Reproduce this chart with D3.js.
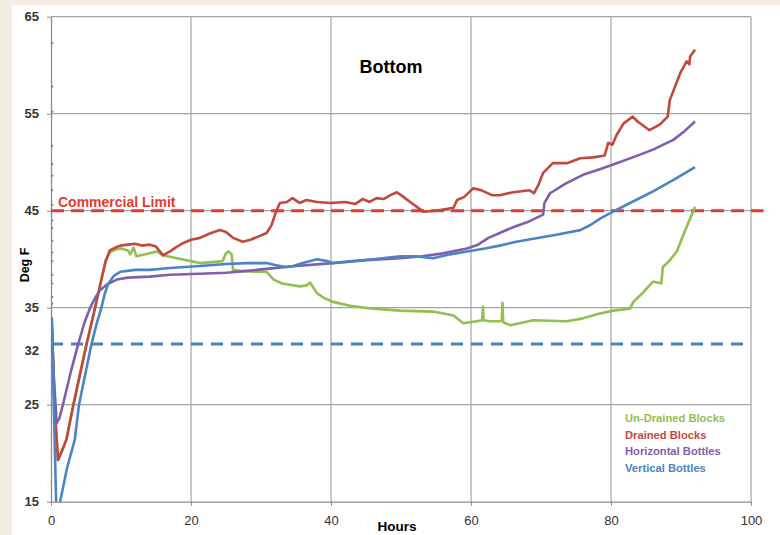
<!DOCTYPE html>
<html>
<head>
<meta charset="utf-8">
<script src="https://cdn.jsdelivr.net/npm/d3@7"></script>
<style>
  body { margin: 0; background: #f3eee1; }
  svg { display: block; font-family: 'Liberation Sans', Arial, sans-serif; }
</style>
</head>
<body>
<svg id="chart"></svg>
<script>
// values: [hours, deg F]
const drained = [
  [0.1, 34], [0.5, 25], [1.0, 19.3], [1.6, 20.3], [2.2, 21.4], [3.2, 25], [4.1, 28], [5.1, 31.3],
  [6.3, 35], [7.2, 37.9], [7.8, 39.8], [8.4, 40.9], [9.2, 41.2], [9.9, 41.4], [11, 41.5], [12, 41.6],
  [13, 41.4], [14.1, 41.5], [15, 41.3], [16, 40.4], [17, 40.8], [18, 41.3], [19, 41.7], [20, 42.0],
  [21.3, 42.2], [22.5, 42.6], [24.1, 43.0], [25, 42.8], [26, 42.2], [27.4, 41.8], [28.5, 42.0],
  [29.5, 42.3], [30.8, 42.7], [31.5, 43.5], [32.2, 45.0], [32.7, 45.8], [33.7, 45.9], [34.5, 46.3],
  [35.5, 45.8], [36.5, 46.1], [38, 45.9], [40, 45.8], [42, 45.9], [43.5, 45.7], [44.5, 46.2],
  [45.5, 45.9], [46.5, 46.3], [47.5, 46.2], [48.5, 46.6], [49.4, 46.9], [50.2, 46.5], [51.5, 45.8],
  [53.2, 44.9], [55, 45.0], [57.5, 45.3], [58, 46.1], [59, 46.4], [60.3, 47.3], [61.5, 47.1],
  [63, 46.6], [64.1, 46.6], [66, 46.9], [68.4, 47.1], [69, 46.8], [69.6, 47.6], [70.3, 48.9],
  [71.7, 49.9], [73.7, 49.9], [75.6, 50.4], [77.5, 50.5], [79.1, 50.7], [79.6, 52.0], [80.2, 51.8],
  [80.8, 52.8], [81.8, 54.0], [83.1, 54.7], [83.8, 54.2], [85.5, 53.3], [87, 53.9], [88.1, 54.7],
  [88.4, 56.4], [89.9, 59.2], [90.8, 60.4], [91.2, 60.1], [91.3, 60.9], [92, 61.6],
]

const undrained = [
  [0.1, 34], [0.5, 25], [1.0, 19.3], [1.6, 20.3], [2.2, 21.4], [3.2, 25], [4.1, 28], [5.1, 31.3],
  [6.3, 35], [7.2, 37.9], [7.8, 39.8], [8.4, 40.7], [9.2, 41.0], [10, 41.1], [11, 40.9], [11.3, 40.5],
  [11.8, 41.2], [12.2, 40.3], [13.5, 40.5], [15.1, 40.8], [16, 40.4], [18, 40.1], [20, 39.8],
  [21.3, 39.6], [23, 39.7], [24.5, 39.8], [25, 40.6], [25.4, 40.8], [25.8, 40.5], [26, 38.9],
  [27, 38.8], [29, 38.7], [30.8, 38.7], [31.8, 37.9], [33, 37.5], [35.6, 37.2], [36.5, 37.3],
  [37, 37.6], [38, 36.5], [39, 36.0], [40.3, 35.6], [42.7, 35.2], [46, 34.9], [49.9, 34.7],
  [54.6, 34.6], [57.5, 34.2], [58.9, 33.4], [60.8, 33.6], [61.6, 33.7], [61.7, 35.1], [61.8, 33.7],
  [62.7, 33.6], [64.1, 33.6], [64.4, 33.7], [64.5, 35.5], [64.6, 33.5], [65.6, 33.2], [68.9, 33.7],
  [73.7, 33.6], [76, 33.9], [78.4, 34.4], [80.3, 34.7], [82.7, 34.9], [83.2, 35.6], [84.5, 36.5],
  [86, 37.7], [87.2, 37.5], [87.4, 39.2], [88.3, 39.8], [89.4, 40.8], [90.5, 42.8], [92, 45.4],
]

const horizontal = [
  [0.1, 33], [0.4, 28], [0.8, 23.1], [1.2, 23.6], [1.7, 25], [2.8, 28.3], [3.9, 31.3], [4.8, 33.5],
  [5.6, 35], [6.3, 36.0], [7, 36.8], [8, 37.4], [9.4, 37.9], [11, 38.1], [14.1, 38.2], [17, 38.4],
  [21.3, 38.5], [25, 38.6], [28, 38.8], [30.8, 39.0], [35, 39.3], [40.3, 39.6], [45, 39.9],
  [49.9, 40.1], [53, 40.3], [56, 40.6], [59.4, 41.1], [61, 41.5], [62.5, 42.2], [64.1, 42.7],
  [66, 43.3], [68, 43.8], [70.3, 44.6], [70.5, 45.8], [71.3, 46.8], [73.5, 47.8], [76, 48.7],
  [78.5, 49.3], [80.8, 49.9], [83.5, 50.6], [86, 51.3], [88.9, 52.3], [90.5, 53.2], [92, 54.2],
]

const vertical = [
  [0.1, 34], [0.5, 22], [0.8, 13], [1.3, 15], [2.3, 18.5], [3.4, 21.4], [4.0, 25], [5.8, 31.3],
  [6.5, 33.3], [7.2, 35], [7.7, 36.5], [8.2, 37.5], [9, 38.3], [9.9, 38.7], [12, 38.9], [14.1, 38.9],
  [17, 39.1], [21.3, 39.3], [25, 39.5], [28, 39.6], [30.8, 39.6], [32, 39.4], [33.5, 39.2],
  [34.6, 39.3], [36, 39.6], [38, 40.0], [39.5, 39.8], [40.3, 39.6], [43, 39.8], [46, 40.0],
  [49.9, 40.3], [52, 40.3], [54.6, 40.1], [57, 40.5], [59.4, 40.8], [62, 41.1], [64.1, 41.4],
  [66.5, 41.8], [68.9, 42.1], [72, 42.5], [75.6, 43.0], [77, 43.5], [78.5, 44.2], [80.3, 44.9],
  [83, 45.9], [86, 47.0], [89, 48.2], [92, 49.5],
]

// stray start-up readings along the y axis
const startDots = [62.3, 57.8, 55.2, 51.7, 49.8, 48.6, 47.1, 45.6, 44.0, 43.2, 41.9, 40.7, 39.8, 38.4, 37.5, 36.1, 35.4]

const seriesNames = ['Un-Drained Blocks', 'Drained Blocks', 'Horizontal Bottles', 'Vertical Bottles']
const seriesColors = ['#92bf4e', '#c2483c', '#7f5eab', '#4a84c4']
const seriesData = [undrained, drained, horizontal, vertical]

const xTicks = [0, 20, 40, 60, 80, 100]
const yTicks = [15, 25, 35, 45, 55, 65]
const commercialLimit = 45
const freezeLine = 31.25
const freezeLabel = '32'

const svgWidth = 780
const svgHeight = 535

const svg = d3.select('#chart').attr('width', svgWidth).attr('height', svgHeight)

svg.append('rect').attr('x', 12).attr('y', 5).attr('width', 768).attr('height', 530).attr('fill', '#fff')

const x = d3.scaleLinear().domain([0, 100]).range([51, 751])
const y = d3.scaleLinear().domain([15, 65]).range([501.7, 16.7])

// gridlines
svg
  .append('g')
  .selectAll('line')
  .data(xTicks.slice(1))
  .join('line')
  .attr('x1', (d) => x(d))
  .attr('x2', (d) => x(d))
  .attr('y1', y(15))
  .attr('y2', y(65))
  .attr('stroke', '#a3a3a3')
  .attr('stroke-width', 1.2)

svg
  .append('g')
  .selectAll('line')
  .data(yTicks.slice(1))
  .join('line')
  .attr('x1', x(0))
  .attr('x2', x(100))
  .attr('y1', (d) => y(d))
  .attr('y2', (d) => y(d))
  .attr('stroke', '#a3a3a3')
  .attr('stroke-width', 1.2)

// axes
const yAxis = svg
  .append('g')
  .attr('transform', `translate(${x(0)},0)`)
  .call(d3.axisLeft(y).tickValues(yTicks).tickSize(4).tickSizeOuter(0).tickPadding(8))
yAxis.select('.domain').attr('stroke', '#8a8a8a').attr('stroke-width', 1.3)
yAxis.selectAll('line').attr('stroke', '#8a8a8a')
yAxis.selectAll('text').attr('font-size', 13).attr('font-weight', 'bold').attr('fill', '#333')

const xAxis = svg
  .append('g')
  .attr('transform', `translate(0,${y(15)})`)
  .call(d3.axisBottom(x).tickValues(xTicks).tickSize(4).tickSizeOuter(0).tickPadding(10))
xAxis.select('.domain').attr('stroke', '#8a8a8a').attr('stroke-width', 1.3)
xAxis.selectAll('line').attr('stroke', '#8a8a8a')
xAxis.selectAll('text').attr('font-size', 13).attr('fill', '#333')

// extra "32" label beside the freezing line
svg
  .append('text')
  .attr('x', x(0) - 12)
  .attr('y', y(freezeLine) + 11)
  .attr('text-anchor', 'end')
  .attr('font-size', 13)
  .attr('font-weight', 'bold')
  .attr('fill', '#333')
  .text(freezeLabel)

// reference lines
svg
  .append('line')
  .attr('x1', x(0))
  .attr('x2', x(100))
  .attr('y1', y(freezeLine))
  .attr('y2', y(freezeLine))
  .attr('stroke', '#4a7fc0')
  .attr('stroke-width', 3)
  .attr('stroke-dasharray', '12,8')

svg
  .append('line')
  .attr('x1', x(0))
  .attr('x2', x(101.8))
  .attr('y1', y(commercialLimit))
  .attr('y2', y(commercialLimit))
  .attr('stroke', '#e53a2e')
  .attr('stroke-width', 3)
  .attr('stroke-dasharray', '13,7')

svg
  .append('text')
  .attr('x', 58)
  .attr('y', y(commercialLimit) - 4)
  .attr('font-size', 14)
  .attr('font-weight', 'bold')
  .attr('fill', '#e53a2e')
  .text('Commercial Limit')

// series
svg
  .append('clipPath')
  .attr('id', 'plot-clip')
  .append('rect')
  .attr('x', x(0))
  .attr('y', y(65))
  .attr('width', x(100) - x(0))
  .attr('height', y(15) - y(65))

const line = d3
  .line()
  .x((d) => x(d[0]))
  .y((d) => y(d[1]))

const plot = svg.append('g').attr('clip-path', 'url(#plot-clip)')

plot
  .selectAll('circle')
  .data(startDots)
  .join('circle')
  .attr('cx', x(0.2))
  .attr('cy', (d) => y(d))
  .attr('r', 1)
  .attr('fill', seriesColors[3])

plot
  .selectAll('path')
  .data(seriesData)
  .join('path')
  .attr('d', line)
  .attr('fill', 'none')
  .attr('stroke', (d, i) => seriesColors[i])
  .attr('stroke-width', 2.6)
  .attr('stroke-linejoin', 'round')

// titles
svg
  .append('text')
  .attr('x', 391)
  .attr('y', 73)
  .attr('text-anchor', 'middle')
  .attr('font-size', 18)
  .attr('font-weight', 'bold')
  .text('Bottom')

svg
  .append('text')
  .attr('x', 397)
  .attr('y', 531)
  .attr('text-anchor', 'middle')
  .attr('font-size', 13.5)
  .attr('font-weight', 'bold')
  .text('Hours')

svg
  .append('text')
  .attr('transform', 'translate(29,265) rotate(-90)')
  .attr('text-anchor', 'middle')
  .attr('font-size', 12.5)
  .attr('font-weight', 'bold')
  .text('Deg F')

// legend
svg
  .append('g')
  .selectAll('text')
  .data(seriesNames)
  .join('text')
  .attr('x', 625)
  .attr('y', (d, i) => 422 + i * 16.7)
  .attr('font-size', 11.2)
  .attr('font-weight', 'bold')
  .attr('fill', (d, i) => seriesColors[i])
  .text((d) => d)
</script>
</body>
</html>
